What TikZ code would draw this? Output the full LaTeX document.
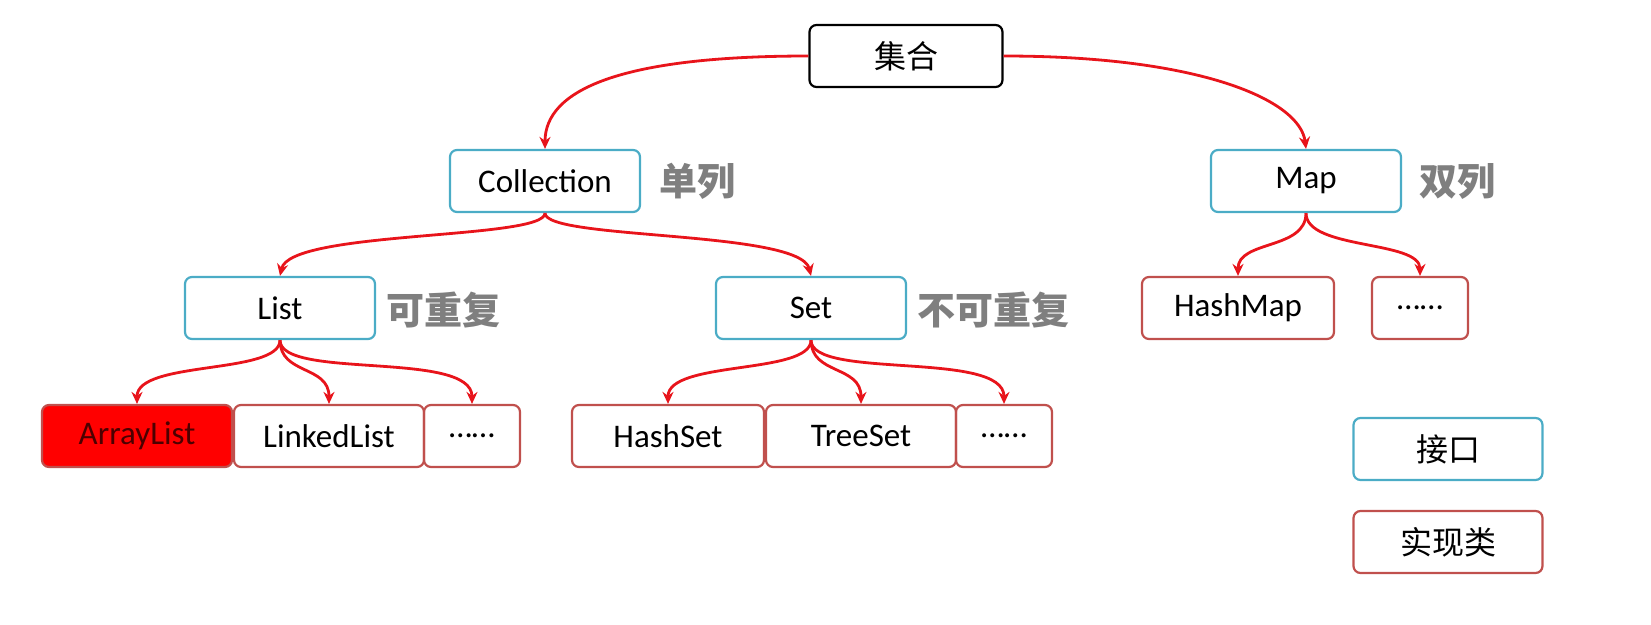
\documentclass[tikz,border=0pt]{standalone}
\usepackage{fontspec}
\setmainfont{Carlito}
\newfontfamily\cjk{Noto Sans CJK SC}
\usetikzlibrary{arrows.meta}
\definecolor{ifc}{HTML}{4BACC6}
\definecolor{imp}{HTML}{C0504D}
\definecolor{arr}{HTML}{E8141B}
\definecolor{lbl}{HTML}{7F7F7F}
\begin{document}
\begin{tikzpicture}[x=1pt,y=-1pt,
 box/.style={draw,line width=2.2pt,rounded corners=7pt,minimum height=62pt,inner sep=0pt,font=\fontsize{33}{38}\selectfont},
 cjkbox/.style={font=\cjk\fontsize{32}{36}\selectfont},
 intf/.style={box,draw=ifc,minimum width=190pt},
 impl/.style={box,draw=imp,minimum width=190pt},
 dots/.style={box,draw=imp,minimum width=96pt},
 lab/.style={font=\cjk\bfseries\fontsize{38}{42}\selectfont,text=lbl},
 ar/.style={draw=arr,line width=2.8pt,-{Stealth[length=12pt,width=11pt]}}]
\useasboundingbox (0,0) rectangle (1651,624);
\node[box,draw=black,minimum width=193pt,cjkbox] (root) at (906,56) {集合};
\node[intf] (coll) at (545,181) {Collection};
\node[lab] (l1) at (697,181) {单列};
\node[intf] (map) at (1306,181) {Map};
\node[lab] (l2) at (1457,181) {双列};
\node[intf] (list) at (280,308) {List};
\node[lab] (l3) at (443,310) {可重复};
\node[intf] (set) at (811,308) {Set};
\node[lab] (l4) at (993,310) {不可重复};
\node[impl,minimum width=192pt] (hm) at (1238,308) {HashMap};
\node[dots] (md) at (1420,308) {……};
\node[impl,fill=red,draw=imp,text=black!70!red] (al) at (137,436) {ArrayList};
\node[impl] (ll) at (329,436) {LinkedList};
\node[dots] (ld) at (472,436) {……};
\node[impl,minimum width=192pt] (hs) at (668,436) {HashSet};
\node[impl] (ts) at (861,436) {TreeSet};
\node[dots] (sd) at (1004,436) {……};
\node[intf,minimum width=189pt,cjkbox] (k1) at (1448,449) {接口};
\node[impl,minimum width=189pt,cjkbox] (k2) at (1448,542) {实现类};
\draw[ar] (root.west) .. controls (620,56) and (545,90) .. (coll.north);
\draw[ar] (root.east) .. controls (1200,56) and (1300,100) .. (map.north);
\draw[ar] (coll.south) .. controls (545,240) and (290,230) .. (list.north);
\draw[ar] (coll.south) .. controls (545,240) and (800,230) .. (set.north);
\draw[ar] (map.south) .. controls (1306,250) and (1238,240) .. (hm.north);
\draw[ar] (map.south) .. controls (1306,250) and (1420,240) .. (md.north);
\draw[ar] (list.south) .. controls (280,375) and (137,360) .. (al.north);
\draw[ar] (list.south) .. controls (280,375) and (329,365) .. (ll.north);
\draw[ar] (list.south) .. controls (280,380) and (472,350) .. (ld.north);
\draw[ar] (set.south) .. controls (811,375) and (668,360) .. (hs.north);
\draw[ar] (set.south) .. controls (811,375) and (861,365) .. (ts.north);
\draw[ar] (set.south) .. controls (811,380) and (1004,350) .. (sd.north);
\end{tikzpicture}
\end{document}
